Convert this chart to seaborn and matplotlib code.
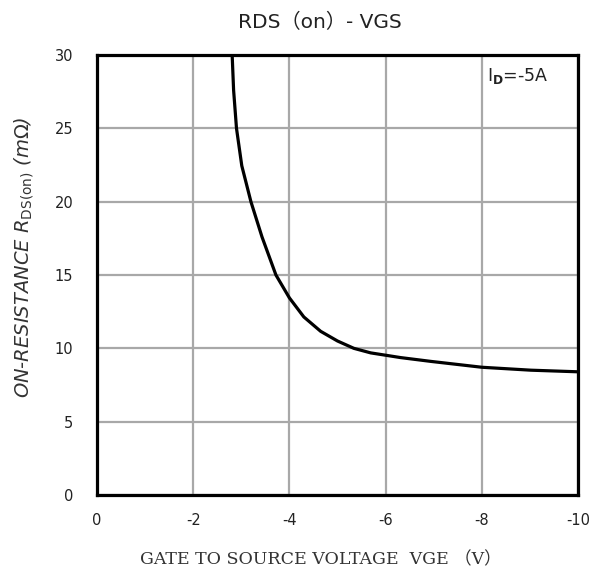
import matplotlib
matplotlib.use("Agg")
import matplotlib.pyplot as plt
import seaborn as sns
import pandas as pd

vgs = [-2.81, -2.84, -2.9, -3.01, -3.2, -3.43, -3.72, -4.0, -4.3, -4.65, -5.0, -5.34, -5.69, -6.02, -6.31, -6.94, -8.0, -9.02, -10.0]
rds = [30.0, 27.6, 25.0, 22.45, 20.0, 17.6, 15.0, 13.44, 12.14, 11.16, 10.5, 10.0, 9.69, 9.52, 9.37, 9.11, 8.71, 8.51, 8.4]
x_ticks = [0, -2, -4, -6, -8, -10]
y_ticks = [0, 5, 10, 15, 20, 25, 30]

sns.set_theme(style="white")
plt.rcParams['axes.unicode_minus'] = False
plt.rcParams['font.family'] = ['DejaVu Sans', 'Noto Sans CJK SC']

df = pd.DataFrame({"vgs": vgs, "rds": rds})

fig = plt.figure(figsize=(6.12, 5.78), dpi=100)
ax = fig.add_axes([97/612, 1-495/578, (578-97)/612, (495-55)/578])

sns.lineplot(data=df, x="vgs", y="rds", ax=ax, color="black", linewidth=2.3,
             sort=False, estimator=None)
ax.lines[0].set_solid_joinstyle("round")

ax.set_xlim(0, -10)
ax.set_ylim(0, 30)
ax.set_xticks(x_ticks)
ax.set_yticks(y_ticks)
ax.set_xticklabels([str(t) for t in x_ticks])
ax.set_yticklabels([str(t) for t in y_ticks])
ax.grid(True, color="#a8a8a8", linewidth=1.6)
ax.set_axisbelow(True)
for s in ax.spines.values():
    s.set_visible(True)
    s.set_color("black")
    s.set_linewidth(2.3)
ax.tick_params(axis='x', length=0, pad=13, labelsize=10.5, colors="#222222")
ax.tick_params(axis='y', length=0, pad=17, labelsize=10.5, colors="#222222")

ax.set_xlabel("")
ax.set_ylabel("")
fig.text(321/612, 1-560/578, "GATE TO SOURCE VOLTAGE  VGE （V）",
         family=['DejaVu Serif', 'Noto Sans CJK SC'], fontsize=12.5, color="#333333",
         ha="center", va="center")
fig.text(24/612, 1-257/578, "ON-RESISTANCE $R_{\\mathrm{DS(on)}}$ (m$\\mathrm{\\Omega}$)", fontsize=14,
         style="italic", color="#333333", rotation=90, ha="center", va="center")

fig.text(320/612, 1-22/578, "RDS（on）- VGS", ha="center", va="center", fontsize=14.5,
         color="#222222")
fig.text(487/612, 1-76/578, "I$_{\\mathbf{D}}$=-5A", fontsize=12.5, color="#222222",
         ha="left", va="center")

fig.savefig("out.png", dpi=100, facecolor="white")
